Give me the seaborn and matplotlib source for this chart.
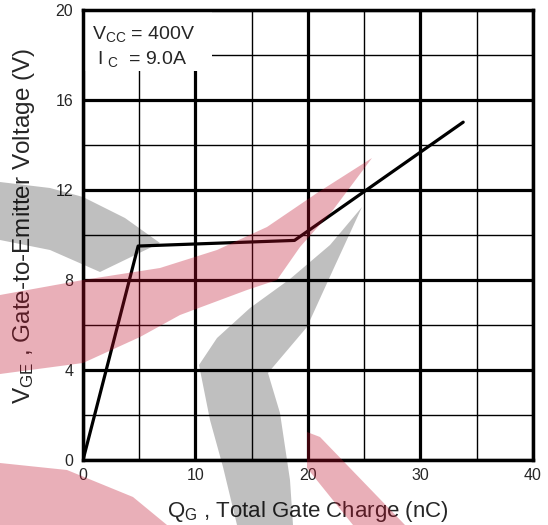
import numpy as np
import pandas as pd
import matplotlib
matplotlib.use('Agg')
import matplotlib.pyplot as plt
from matplotlib.patches import Polygon, Rectangle
import seaborn as sns

#%% data
qg = [0, 4.9, 18.8, 33.8]       # Q_G, nC
vge = [0, 9.5, 9.75, 15.0]      # V_GE, V
x_ticks = [0, 10, 20, 30, 40]
y_ticks = [0, 4, 8, 12, 16, 20]
x_minor = [5, 15, 25, 35]
y_minor = [2, 6, 10, 14, 18]

df = pd.DataFrame({'qg': qg, 'vge': vge})

#%% style
sns.set_theme(style='white')
plt.rcParams['font.family'] = ['Liberation Sans', 'DejaVu Sans']
plt.rcParams['mathtext.fontset'] = 'custom'
plt.rcParams['mathtext.rm'] = 'Liberation Sans'

fig = plt.figure(figsize=(5.48, 5.25), dpi=100)
ax = fig.add_axes([0.1515, 0.1238, 0.821, 0.858])

sns.lineplot(data=df, x='qg', y='vge', ax=ax, color='black', lw=2.3,
             zorder=3, sort=False)

ax.set_xlim(0, 40)
ax.set_ylim(0, 20)
ax.set_xticks(x_ticks)
ax.set_yticks(y_ticks)
ax.set_xticks(x_minor, minor=True)
ax.set_yticks(y_minor, minor=True)
ax.set_axisbelow(True)
ax.grid(which='major', color='black', lw=2.3)
ax.grid(which='minor', color='black', lw=1.0)
ax.tick_params(which='both', length=0)
ax.tick_params(axis='x', pad=6, labelsize=11.5)
ax.tick_params(axis='y', pad=7, labelsize=11.5)
for s in ax.spines.values():
    s.set_color('black')
    s.set_linewidth(2.5)

ax.set_xlabel(r'$\mathregular{Q_G}$ , Total Gate Charge (nC)', fontsize=16, labelpad=11)
ax.set_ylabel(r'$\mathregular{V_{GE}}$ , Gate-to-Emitter Voltage (V)', fontsize=17.5)
ax.yaxis.set_label_coords(-0.103, 0.52)

# condition box in the upper left corner
ax.add_patch(Rectangle((0, 0.863), 0.2875, 0.137, transform=ax.transAxes,
                       facecolor='white', edgecolor='none', zorder=2))
ax.text(0.02, 0.945, r'$\mathregular{V_{CC}}$ = 400V', transform=ax.transAxes,
        fontsize=14, va='center', zorder=4)
ax.text(0.031, 0.89, r'$\mathregular{I_{\ C}}$  = 9.0A', transform=ax.transAxes,
        fontsize=14, va='center', zorder=4)

#%% watermark overlay (pixel coordinates of the figure)
ov = fig.add_axes([0, 0, 1, 1], zorder=10)
ov.set_xlim(0, 548)
ov.set_ylim(525, 0)
ov.axis('off')
ov.patch.set_alpha(0)

red = (0.75, 0.05, 0.16)
gray_small = [(0, 182), (50, 188), (83, 197), (125, 218), (160, 243),
              (100, 272), (50, 250), (0, 240)]
gray_big = [(362, 207), (330, 245), (290, 279), (250, 308), (217, 338),
            (199, 365), (210, 420), (223, 467), (237, 525), (293, 525),
            (290, 480), (280, 413), (268, 373), (307, 327), (333, 270)]
red_band = [(0, 295), (83, 280), (160, 268), (217, 250), (267, 227),
            (317, 193), (372, 158), (333, 210), (300, 247), (277, 280),
            (247, 290), (180, 315), (140, 337), (83, 363), (0, 374)]
red_diag = [(307, 432), (320, 437), (405, 525), (353, 525), (307, 468)]
red_blob = [(0, 463), (67, 470), (133, 497), (167, 525), (0, 525)]

for pts in [gray_small, gray_big]:
    ov.add_patch(Polygon(pts, closed=True, facecolor='black', alpha=0.25, lw=0))
for pts in [red_band, red_diag, red_blob]:
    ov.add_patch(Polygon(pts, closed=True, facecolor=red, alpha=0.33, lw=0))

fig.savefig('out.png', dpi=100)
